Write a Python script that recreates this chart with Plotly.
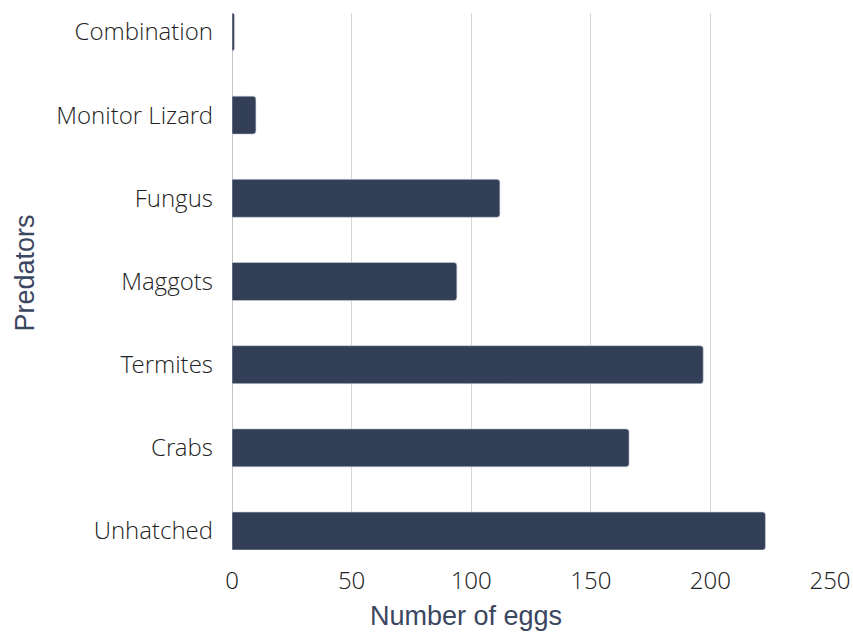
import plotly.graph_objects as go

categories = ["Unhatched", "Crabs", "Termites", "Maggots", "Fungus", "Monitor Lizard", "Combination"]
eggs = [223, 166, 197, 94, 112, 10, 1]
x_ticks = [0, 50, 100, 150, 200, 250]

BAR = "#333e57"
TITLE_COLOR = "#3b4660"
TICK_FONT = dict(family="Open Sans Light, Open Sans", size=24, color="#222222", weight=300)

fig = go.Figure(
    go.Bar(
        y=categories,
        x=eggs,
        orientation="h",
        width=0.456,
        marker=dict(color=BAR, line=dict(color="#c9cdd6", width=0.6), cornerradius=3),
    )
)

fig.update_layout(
    width=853,
    height=632,
    margin=dict(l=232, r=23, t=13, b=82, pad=0),
    paper_bgcolor="white",
    plot_bgcolor="white",
    showlegend=False,
    font=dict(family="Open Sans", color="#222222"),
    annotations=[
        dict(
            text="Number of eggs",
            xref="paper", yref="paper",
            x=0.391, y=-0.122,
            xanchor="center", yanchor="middle",
            showarrow=False,
            font=dict(family="Liberation Sans", size=27, color=TITLE_COLOR),
        ),
        dict(
            text="Predators",
            xref="paper", yref="paper",
            x=-0.346, y=0.515,
            xanchor="center", yanchor="middle",
            textangle=-90,
            showarrow=False,
            font=dict(family="Liberation Sans", size=27, color=TITLE_COLOR),
        ),
    ],
)

fig.update_xaxes(
    range=[0, 250],
    automargin=False,
    tickvals=x_ticks,
    ticktext=[str(v) for v in x_ticks],
    showgrid=True,
    gridcolor="#d6d6d6",
    gridwidth=1,
    zeroline=True,
    zerolinecolor="#c4c4c4",
    zerolinewidth=1,
    showline=False,
    ticks="",
    ticklabelstandoff=14,
    tickfont=TICK_FONT,
)

fig.update_yaxes(
    range=[-0.228, 6.228],
    automargin=False,
    showgrid=False,
    zeroline=False,
    showline=False,
    ticks="",
    ticklabelstandoff=18,
    tickfont=TICK_FONT,
)

fig.write_html("out.html")
